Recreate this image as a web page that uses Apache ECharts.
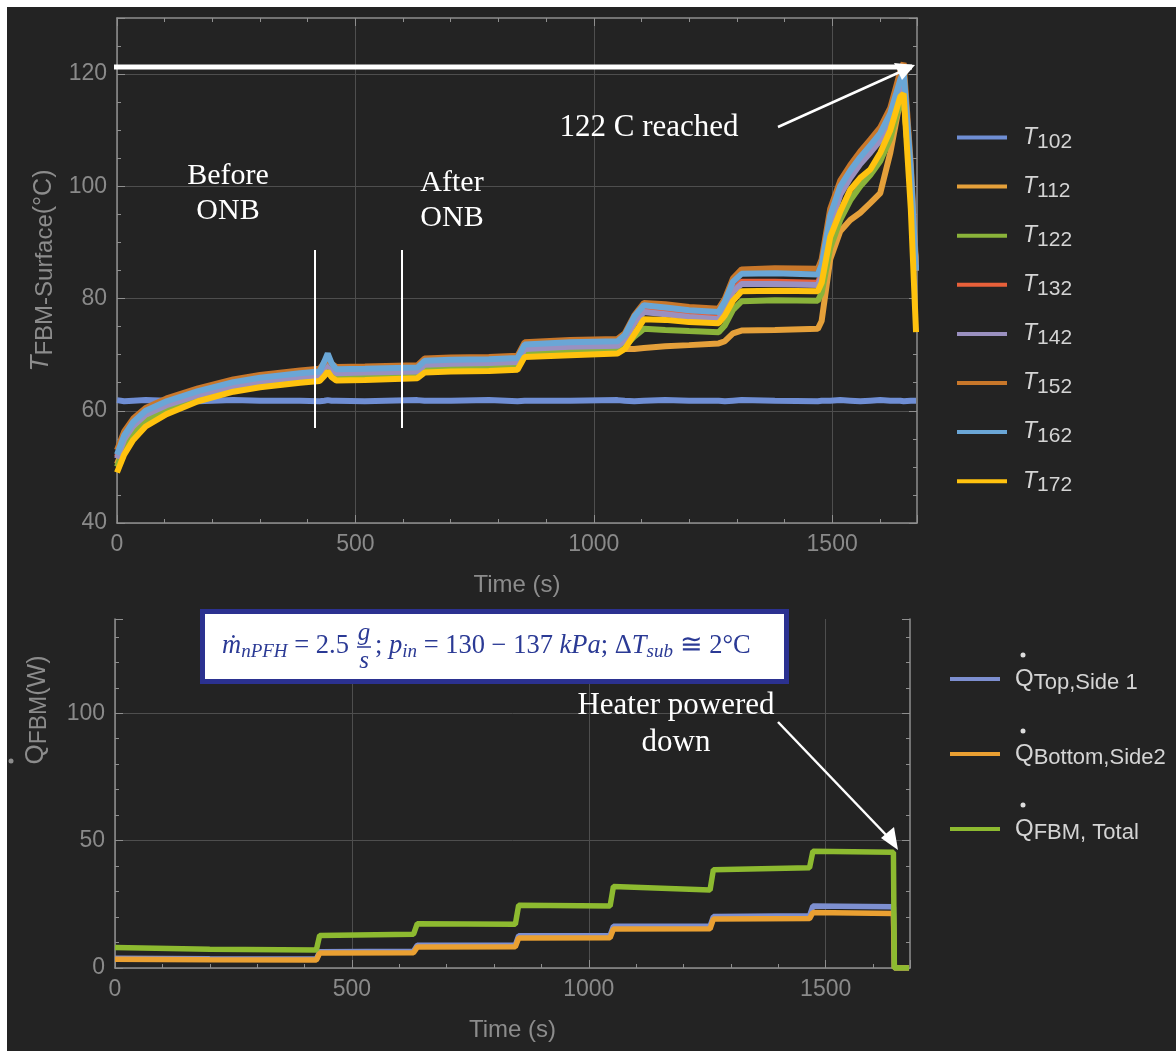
<!DOCTYPE html>
<html><head><meta charset="utf-8">
<script src="https://cdn.jsdelivr.net/npm/echarts@6/dist/echarts.min.js"></script>
<style>
html,body{margin:0;padding:0;background:#fff;}
#c{position:absolute;left:0;top:0;width:1176px;height:1051px;
background:linear-gradient(#fff,#fff) 0 0/100% 7px no-repeat,linear-gradient(#fff,#fff) 0 0/7px 100% no-repeat,#232323;}
</style></head><body><div id="c"></div>
<script>
// ---------- DATA ----------
const timeT = [0, 15, 34, 60, 104, 170, 244, 300, 384, 425, 435, 442, 450, 460, 520, 630, 645, 700, 780, 840, 855, 950, 1050, 1065, 1085, 1105, 1150, 1200, 1262, 1275, 1292, 1310, 1380, 1470, 1478, 1496, 1517, 1538, 1559, 1580, 1601, 1622, 1643, 1650, 1665, 1676];
const T102 = [61.9, 61.7, 61.8, 61.9, 61.8, 61.7, 61.9, 61.8, 61.8, 61.7, 61.8, 61.9, 61.8, 61.8, 61.7, 61.9, 61.8, 61.8, 61.9, 61.7, 61.8, 61.8, 61.9, 61.8, 61.7, 61.8, 61.9, 61.8, 61.8, 61.7, 61.8, 61.9, 61.8, 61.7, 61.8, 61.8, 61.9, 61.8, 61.7, 61.8, 61.9, 61.8, 61.8, 61.7, 61.8, 61.8];
const T112 = [50.5, 53.8, 56.4, 58.6, 60.6, 62.6, 64.3, 65.1, 65.9, 66.2, 67.2, 68.0, 67.1, 66.5, 66.6, 66.8, 67.8, 68.0, 68.1, 68.3, 70.5, 70.7, 70.8, 71.0, 71.0, 71.2, 71.5, 71.7, 72.0, 72.4, 73.8, 74.3, 74.4, 74.6, 76.0, 87.0, 92.0, 94.0, 95.3, 97.0, 98.8, 106.0, 115.4, 116.0, 100.0, 85.0];
const T122 = [50.0, 53.2, 55.8, 58.1, 60.2, 62.3, 64.0, 64.8, 65.6, 65.9, 66.9, 67.7, 66.8, 66.2, 66.3, 66.5, 67.5, 67.7, 67.8, 68.0, 70.3, 70.6, 70.8, 71.5, 73.2, 74.6, 74.4, 74.2, 74.0, 75.2, 78.0, 79.5, 79.7, 79.6, 81.0, 89.0, 94.0, 97.5, 100.0, 102.0, 104.5, 108.5, 115.0, 116.0, 100.0, 85.0];
const T132 = [51.8, 55.2, 57.6, 59.6, 61.3, 63.1, 64.7, 65.5, 66.3, 66.6, 67.8, 68.8, 67.8, 67.0, 67.1, 67.3, 68.5, 68.7, 68.8, 69.0, 71.3, 71.7, 71.9, 72.8, 76.0, 78.0, 77.6, 77.0, 76.6, 78.5, 81.5, 83.0, 83.0, 82.8, 84.5, 93.5, 99.0, 102.0, 104.5, 106.6, 108.8, 112.2, 118.5, 119.5, 102.0, 85.0];
const T142 = [51.5, 54.9, 57.3, 59.3, 61.0, 62.8, 64.4, 65.2, 66.0, 66.3, 67.5, 68.5, 67.5, 66.7, 66.8, 67.0, 68.2, 68.4, 68.5, 68.7, 71.0, 71.4, 71.6, 72.5, 75.6, 77.6, 77.2, 76.7, 76.3, 78.2, 81.2, 82.6, 82.6, 82.4, 84.0, 93.0, 98.5, 101.5, 104.0, 106.0, 108.2, 111.8, 118.0, 119.0, 101.5, 85.0];
const T152 = [53.0, 56.3, 58.6, 60.5, 62.2, 64.0, 65.6, 66.4, 67.2, 67.5, 68.6, 69.4, 68.4, 67.8, 67.9, 68.1, 69.3, 69.5, 69.6, 69.8, 72.2, 72.6, 72.8, 73.8, 77.0, 79.2, 79.0, 78.5, 78.2, 80.0, 83.6, 85.2, 85.4, 85.3, 87.0, 96.0, 101.0, 103.8, 106.2, 108.3, 110.5, 114.0, 120.5, 122.0, 104.0, 86.0];
const T162 = [52.2, 55.6, 58.0, 60.0, 61.7, 63.5, 65.1, 65.9, 66.7, 67.0, 68.8, 70.2, 68.5, 67.4, 67.5, 67.7, 68.9, 69.1, 69.2, 69.4, 71.8, 72.2, 72.4, 73.5, 76.8, 78.8, 78.4, 77.9, 77.6, 79.5, 83.0, 84.4, 84.5, 84.3, 86.0, 94.8, 100.0, 102.8, 105.2, 107.3, 109.5, 113.0, 119.0, 120.5, 103.0, 85.0];
const T172 = [49.0, 52.2, 54.8, 57.2, 59.4, 61.7, 63.4, 64.2, 65.0, 65.3, 66.2, 67.0, 66.0, 65.4, 65.5, 65.8, 66.8, 67.0, 67.1, 67.3, 69.6, 69.9, 70.2, 71.0, 73.6, 76.3, 76.2, 75.8, 75.6, 77.0, 79.6, 81.3, 81.4, 81.3, 82.8, 91.0, 95.5, 99.4, 101.5, 103.0, 106.0, 110.0, 116.0, 116.5, 96.0, 74.0];
const tempNames = ['T102', 'T112', 'T122', 'T132', 'T142', 'T152', 'T162', 'T172'];
const tempSubs = ['102', '112', '122', '132', '142', '152', '162', '172'];

const timeQ = [0, 200, 425, 432, 630, 638, 845, 852, 1045, 1052, 1256, 1263, 1466, 1473, 1643, 1645, 1676];
const qTop = [3.8, 3.6, 3.5, 6.4, 6.6, 8.9, 9.0, 12.7, 12.8, 16.4, 16.4, 20.2, 20.5, 24.3, 24.0, 0, 0];
const qBottom = [3.4, 3.2, 3.1, 5.9, 6.0, 8.2, 8.3, 11.8, 11.9, 15.3, 15.4, 19.2, 19.4, 21.8, 21.4, 0, 0];
const qTotal = [8.0, 7.4, 7.1, 12.8, 13.2, 17.4, 17.2, 24.6, 24.3, 32.0, 30.6, 38.6, 39.4, 45.8, 45.4, 0, 0];
const qNames = ['QTop', 'QBottom', 'QTotal'];
const qSubs = ['Top,Side 1', 'Bottom,Side2', 'FBM, Total'];

// ---------- STYLE ----------
const tempColors = ['#6f8ed4', '#e5a03a', '#8ab33a', '#e8603a', '#9a90c0', '#c8772a', '#6aa6d6', '#ffc20e'];
const qColors = ['#7d8fd0', '#eaa032', '#8dba30'];
const AX = '#8f8f8f', LBL = '#8a8a8a', GRID = '#4e4e4e', SANS = 'Liberation Sans, Arial, sans-serif', SERIF = 'Liberation Serif, DejaVu Serif, serif';
const MATH = '#2b3a95';

function zip(t, v) { return t.map((x, i) => [x, v[i]]); }

function axis(extra) {
  return Object.assign({
    type: 'value',
    axisLine: { show: true, onZero: false, lineStyle: { color: AX, width: 1.5 } },
    axisTick: { show: true, inside: true, length: 8, lineStyle: { color: AX } },
    minorTick: { show: true, length: 4, lineStyle: { color: AX } },
    axisLabel: { show: true, color: LBL, fontSize: 23, fontFamily: SANS, margin: 10, showMaxLabel: false, formatter: v => String(v) },
    splitLine: { show: true, showMaxLine: false, lineStyle: { color: GRID, width: 1 } },
    minorSplitLine: { show: false }
  }, extra);
}
const frame = { axisLabel: { show: false }, splitLine: { show: false } };
function minor(n) { return { show: true, splitNumber: n, length: 4, lineStyle: { color: AX } }; }

const tempSeries = [T102, T112, T122, T132, T142, T152, T162, T172];
const qSeries = [qTop, qBottom, qTotal];

const series = [];
tempSeries.forEach((v, i) => series.push({
  name: tempNames[i], type: 'line', xAxisIndex: 0, yAxisIndex: 0,
  data: zip(timeT, v), showSymbol: false, symbol: 'none', color: tempColors[i],
  lineStyle: { width: 6, color: tempColors[i] }, z: 2 + i
}));
qSeries.forEach((v, i) => series.push({
  name: qNames[i], type: 'line', xAxisIndex: 2, yAxisIndex: 2,
  data: zip(timeQ, v), showSymbol: false, symbol: 'none', color: qColors[i],
  lineStyle: { width: 5.5, color: qColors[i] }, z: 2 + i
}));

const nameGray = '#8c8c8c';
const legText = '#d4d4d4';
const timeName = { name: 'Time (s)', nameLocation: 'middle', nameGap: 50, nameTextStyle: { color: nameGray, fontSize: 24, fontFamily: SANS } };

const mathRich = {
  i: { fontSize: 26.5, fontStyle: 'italic', fill: MATH, fontFamily: SERIF, lineHeight: 30, verticalAlign: 'middle' },
  r: { fontSize: 26.5, fill: MATH, fontFamily: SERIF, lineHeight: 30, verticalAlign: 'middle' },
  sb: { fontSize: 19, fontStyle: 'italic', fill: MATH, fontFamily: SERIF, lineHeight: 20, verticalAlign: 'bottom' }
};

const option = {
  animation: false,
  backgroundColor: 'transparent',
  grid: [
    { left: 117, top: 18, width: 800, height: 505 },
    { left: 115, top: 619, width: 795, height: 349 }
  ],
  xAxis: [
    axis(Object.assign({ gridIndex: 0, min: 0, max: 1678, interval: 500, minorTick: minor(5) }, timeName)),
    axis(Object.assign({ gridIndex: 0, position: 'top', min: 0, max: 1678, interval: 500, minorTick: minor(5) }, frame)),
    axis(Object.assign({ gridIndex: 1, min: 0, max: 1678, interval: 500, minorTick: minor(5) }, timeName))
  ],
  yAxis: [
    axis({ gridIndex: 0, min: 40, max: 130, interval: 20, minorTick: minor(4),
      name: '{t|T}{s|FBM-Surface}{n|(°C)}', nameLocation: 'middle', nameGap: 60,
      nameTextStyle: { color: nameGray, fontFamily: SANS, rich: {
        t: { fontStyle: 'italic', fontSize: 26, color: nameGray, fontFamily: SANS, lineHeight: 32, verticalAlign: 'middle' },
        s: { fontSize: 24, color: nameGray, fontFamily: SANS, lineHeight: 22, verticalAlign: 'bottom' },
        n: { fontSize: 25, color: nameGray, fontFamily: SANS, lineHeight: 26, verticalAlign: 'bottom' } } } }),
    axis(Object.assign({ gridIndex: 0, position: 'right', min: 40, max: 130, interval: 20, minorTick: minor(4) }, frame)),
    axis({ gridIndex: 1, min: 0, max: 137, interval: 50, minorTick: minor(5) }),
    axis(Object.assign({ gridIndex: 1, position: 'right', min: 0, max: 137, interval: 50, minorTick: minor(5) }, frame))
  ],
  legend: [
    { data: tempNames, orient: 'vertical', left: 957, top: 126, padding: 0, itemGap: 22.6,
      icon: 'rect', itemWidth: 50, itemHeight: 4, selectedMode: false,
      formatter: n => '{t|T}{s|' + tempSubs[tempNames.indexOf(n)] + '}',
      textStyle: { color: legText, rich: {
        t: { fontStyle: 'italic', fontSize: 23, color: legText, fontFamily: SANS, lineHeight: 30, verticalAlign: 'middle', padding: [0, 0, 0, 11] },
        s: { fontSize: 21, color: legText, fontFamily: SANS, lineHeight: 20, verticalAlign: 'bottom' } } } },
    { data: qNames, orient: 'vertical', left: 950, top: 667, padding: 0, itemGap: 48,
      icon: 'rect', itemWidth: 50, itemHeight: 4, selectedMode: false,
      formatter: n => '{q|Q}{s|' + qSubs[qNames.indexOf(n)] + '}',
      textStyle: { color: legText, rich: {
        q: { fontSize: 24, color: legText, fontFamily: SANS, lineHeight: 30, verticalAlign: 'middle', padding: [0, 0, 0, 10] },
        s: { fontSize: 22, color: legText, fontFamily: SANS, lineHeight: 20, verticalAlign: 'bottom' } } } }
  ],
  series: series,
  graphic: [
    // legend dots above Q
    { type: 'circle', shape: { cx: 1023, cy: 655, r: 2.5 }, style: { fill: '#dddddd' }, z: 100 },
    { type: 'circle', shape: { cx: 1023, cy: 731, r: 2.5 }, style: { fill: '#dddddd' }, z: 100 },
    { type: 'circle', shape: { cx: 1023, cy: 805, r: 2.5 }, style: { fill: '#dddddd' }, z: 100 },
    // bottom y axis name
    { type: 'text', x: 36, y: 710, rotation: Math.PI / 2, z: 100,
      style: { text: '{q|Q}{s|FBM}{n|(W)}', align: 'center', verticalAlign: 'middle', rich: {
        q: { fontSize: 26, fill: nameGray, fontFamily: SANS, lineHeight: 30, verticalAlign: 'middle' },
        s: { fontSize: 23, fill: nameGray, fontFamily: SANS, lineHeight: 22, verticalAlign: 'bottom' },
        n: { fontSize: 25, fill: nameGray, fontFamily: SANS, lineHeight: 26, verticalAlign: 'bottom' } } } },
    { type: 'circle', shape: { cx: 11, cy: 761, r: 2.5 }, style: { fill: nameGray }, z: 100 },
    // top plot annotations
    { type: 'line', shape: { x1: 114, y1: 67, x2: 912, y2: 67 }, style: { stroke: '#ffffff', lineWidth: 5 }, z: 100 },
    { type: 'line', shape: { x1: 778, y1: 127, x2: 900, y2: 72 }, style: { stroke: '#ffffff', lineWidth: 2.5 }, z: 100 },
    { type: 'polygon', shape: { points: [[915, 65], [894, 63], [902, 80]] }, style: { fill: '#ffffff' }, z: 100 },
    { type: 'text', x: 649, y: 128, z: 100, style: { text: '122 C reached', fill: '#ffffff', fontSize: 31, fontFamily: SERIF, align: 'center', verticalAlign: 'middle' } },
    { type: 'text', x: 228, y: 194, z: 100, style: { text: 'Before\nONB', fill: '#ffffff', fontSize: 30, lineHeight: 35, fontFamily: SERIF, align: 'center', verticalAlign: 'middle' } },
    { type: 'text', x: 452, y: 201, z: 100, style: { text: 'After\nONB', fill: '#ffffff', fontSize: 30, lineHeight: 35, fontFamily: SERIF, align: 'center', verticalAlign: 'middle' } },
    { type: 'line', shape: { x1: 315, y1: 250, x2: 315, y2: 428 }, style: { stroke: '#ffffff', lineWidth: 2 }, z: 100 },
    { type: 'line', shape: { x1: 402, y1: 250, x2: 402, y2: 428 }, style: { stroke: '#ffffff', lineWidth: 2 }, z: 100 },
    // bottom plot annotations
    { type: 'text', x: 676, y: 724, z: 100, style: { text: 'Heater powered\ndown', fill: '#ffffff', fontSize: 31, lineHeight: 37, fontFamily: SERIF, align: 'center', verticalAlign: 'middle' } },
    { type: 'line', shape: { x1: 778, y1: 722, x2: 889, y2: 838 }, style: { stroke: '#ffffff', lineWidth: 2.5 }, z: 100 },
    { type: 'polygon', shape: { points: [[898, 850], [881, 838], [894, 827]] }, style: { fill: '#ffffff' }, z: 100 },
    // condition box
    { type: 'rect', shape: { x: 202.5, y: 611.5, width: 584, height: 70 }, style: { fill: '#ffffff', stroke: '#2b3190', lineWidth: 5 }, z: 110 },
    { type: 'text', x: 222, y: 646, z: 111, style: { text: '{i|ṁ}{sb|nPFH}{r| = 2.5}', verticalAlign: 'middle', rich: mathRich } },
    { type: 'text', x: 364, y: 633, z: 111, style: { text: 'g', fontSize: 25, fontStyle: 'italic', fill: MATH, fontFamily: SERIF, align: 'center', verticalAlign: 'middle' } },
    { type: 'line', shape: { x1: 357, y1: 647, x2: 371, y2: 647 }, style: { stroke: MATH, lineWidth: 1.5 }, z: 111 },
    { type: 'text', x: 364, y: 661, z: 111, style: { text: 's', fontSize: 25, fontStyle: 'italic', fill: MATH, fontFamily: SERIF, align: 'center', verticalAlign: 'middle' } },
    { type: 'text', x: 375, y: 646, z: 111, style: { text: '{r|; }{i|p}{sb|in}{r| = 130 − 137 }{i|kPa}{r|; Δ}{i|T}{sb|sub}{r| ≅ 2°C}', verticalAlign: 'middle', rich: mathRich } }
  ]
};

const chart = echarts.init(document.getElementById('c'), null, { renderer: 'canvas' });
chart.setOption(option);
</script>
</body></html>
